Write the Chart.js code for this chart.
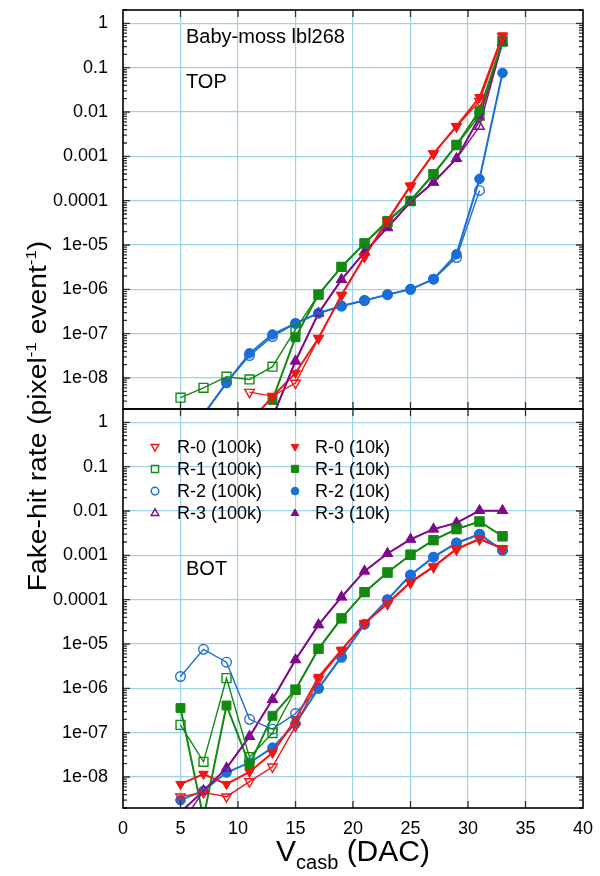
<!DOCTYPE html>
<html>
<head>
<meta charset="utf-8">
<script src="https://cdn.jsdelivr.net/npm/chart.js@4/dist/chart.umd.min.js"></script>
<style>
  body { margin: 0; background: #fff; width: 600px; height: 876px; position: relative; overflow: hidden;
         font-family: "Liberation Sans", Arial, sans-serif; }
  canvas { position: absolute; left: 0; }
  #topChart { top: 0; }
  #botChart { top: 400px; }
  .lbl { position: absolute; color: #000; white-space: nowrap; line-height: 20px; font-size: 20px; }
</style>
</head>
<body>
<canvas id="topChart" width="600" height="420"></canvas>
<canvas id="botChart" width="600" height="476"></canvas>

<div class="lbl" style="left:186px; top:26px;">Baby-moss lbl268</div>
<div class="lbl" style="left:186px; top:71px;">TOP</div>
<div class="lbl" style="left:186px; top:558px;">BOT</div>

<div id="ytitle" style="position:absolute; left:-163px; top:401px; width:400px; height:30px; line-height:30px;
     text-align:center; transform:rotate(-90deg) scaleX(1.13); font-family:'Liberation Sans Narrow','Liberation Sans',Arial,sans-serif; font-size:25px; white-space:nowrap;">
  Fake-hit rate (pixel<span style="font-size:15px; position:relative; top:-10px;">-1</span> event<span style="font-size:15px; position:relative; top:-10px;">-1</span>)
</div>
<div id="xtitle" style="position:absolute; left:153px; top:836px; width:400px; height:30px; line-height:30px;
     text-align:center; font-size:30px; white-space:nowrap;">
  V<span style="font-size:20px; position:relative; top:8px;">casb</span> (DAC)
</div>

<script>
'use strict';

// V_casb settings (DAC)
const vcasb = [5, 7, 9, 11, 13, 15, 17, 19, 21, 23, 25, 27, 29, 31, 33];

// y axis ticks (same for both panels)
const yTickValues = [1e-8, 1e-7, 1e-6, 1e-5, 1e-4, 1e-3, 1e-2, 1e-1, 1];
const yTickLabels = ['1e-08', '1e-07', '1e-06', '1e-05', '0.0001', '0.001', '0.01', '0.1', '1'];
const xTickLabels = ['0', '5', '10', '15', '20', '25', '30', '35', '40'];

const seriesNames = ['R-0 (100k)', 'R-1 (100k)', 'R-2 (100k)', 'R-3 (100k)',
                     'R-0 (10k)', 'R-1 (10k)', 'R-2 (10k)', 'R-3 (10k)'];

// TOP panel
const r0_100k_top = [null, null, null, 4.8e-9, 3.9e-9, 7.7e-9, 7.9e-8, 7.4e-7, 5.4e-6, 3.5e-5, 2.1e-4, 1.15e-3, 4.7e-3, 1.75e-2, 0.5];
const r1_100k_top = [3.6e-9, 6e-9, 1.07e-8, 9.3e-9, 1.8e-8, 1.25e-7, 7.6e-7, 3.2e-6, 1.07e-5, 3.3e-5, 9.8e-5, 3.9e-4, 1.8e-3, 8.3e-3, 0.39];
const r2_100k_top = [null, 1.5e-9, 7.8e-9, 3.2e-8, 8.6e-8, 1.7e-7, 2.9e-7, 4.2e-7, 5.6e-7, 7.6e-7, 1e-6, 1.7e-6, 5.2e-6, 1.7e-4, null];
const r3_100k_top = [null, null, null, null, 1.3e-9, 2.4e-8, 2.9e-7, 1.66e-6, 6.9e-6, 2.46e-5, 9.3e-5, 2.6e-4, 8.9e-4, 4.7e-3, 0.37];
const r0_10k_top = [null, null, null, 1e-9, 3.8e-9, 1.3e-8, 7.9e-8, 7.4e-7, 5.6e-6, 3.6e-5, 2.2e-4, 1.15e-3, 4.8e-3, 2.15e-2, 0.53];
const r1_10k_top = [null, null, null, null, 3.2e-9, 8.3e-8, 7.6e-7, 3.2e-6, 1.1e-5, 3.5e-5, 1e-4, 4e-4, 1.8e-3, 1.07e-2, 0.4];
const r2_10k_top = [null, 1.5e-9, 7.8e-9, 3.6e-8, 9.6e-8, 1.7e-7, 2.9e-7, 4.2e-7, 5.6e-7, 7.6e-7, 1e-6, 1.7e-6, 6.2e-6, 3.1e-4, 0.076];
const r3_10k_top = [null, null, null, null, 1.3e-9, 2.4e-8, 2.9e-7, 1.66e-6, 6.9e-6, 2.5e-5, 9.3e-5, 2.6e-4, 8.9e-4, 7.6e-3, 0.37];

// BOT panel
const r0_100k_bot = [3.6e-9, 4.5e-9, 3.6e-9, 7.9e-9, 1.7e-8, 1.4e-7, 1.6e-6, 7.0e-6, 2.9e-5, 8.0e-5, 2.4e-4, 5.4e-4, 1.35e-3, 2.3e-3, 1.4e-3];
const r1_100k_bot = [1.5e-7, 2.2e-8, 1.7e-6, 2.8e-8, 9.8e-8, 9.3e-7, 7.8e-6, 3.8e-5, 1.48e-4, 4.1e-4, 1.03e-3, 2.2e-3, 3.9e-3, 5.8e-3, 2.7e-3];
const r2_100k_bot = [1.85e-6, 7.6e-6, 3.9e-6, 2.0e-7, 1.2e-7, 2.7e-7, 1.0e-6, 5.0e-6, 2.8e-5, 1e-4, 3.6e-4, 9.1e-4, 1.9e-3, 3.0e-3, 1.3e-3];
const r3_100k_bot = [8e-10, 4.9e-9, 1.58e-8, 8.2e-8, 5.6e-7, 4.4e-6, 2.7e-5, 1.15e-4, 4.4e-4, 1.1e-3, 2.3e-3, 3.9e-3, 5.4e-3, 1.02e-2, 1.02e-2];
const r0_10k_bot = [6.9e-9, 1.17e-8, 6.9e-9, 1.3e-8, 3.5e-8, 2.0e-7, 1.8e-6, 7.4e-6, 2.95e-5, 8.3e-5, 2.5e-4, 5.6e-4, 1.4e-3, 2.35e-3, 1.45e-3];
const r1_10k_bot = [3.6e-7, 1.2e-9, 4.1e-7, 1.9e-8, 2.4e-7, 9.3e-7, 7.8e-6, 3.8e-5, 1.48e-4, 4.1e-4, 1.03e-3, 2.2e-3, 3.9e-3, 5.8e-3, 2.7e-3];
const r2_10k_bot = [3e-9, 4.9e-9, 1.26e-8, 2.1e-8, 4.6e-8, 1.6e-7, 1e-6, 5.2e-6, 2.8e-5, 1e-4, 3.6e-4, 9.1e-4, 1.9e-3, 3.0e-3, 1.29e-3];
const r3_10k_bot = [1.6e-9, 4.9e-9, 1.58e-8, 8.2e-8, 5.6e-7, 4.4e-6, 2.7e-5, 1.15e-4, 4.4e-4, 1.1e-3, 2.3e-3, 3.9e-3, 5.4e-3, 1.02e-2, 1.02e-2];

const colors = ['#f41414', '#128a12', '#1a6ed8', '#800a8c'];
const styles = [
  { pointStyle: 'triangle', rotation: 180, radius: 5.5 },
  { pointStyle: 'rect', rotation: 0, radius: 6.3 },
  { pointStyle: 'circle', rotation: 0, radius: 4.8 },
  { pointStyle: 'triangle', rotation: 0, radius: 5.5 }
];
const gridColor = '#9dd2ea';
const fontFamily = '"Liberation Sans", Arial, sans-serif';

function makeDataset(idx, values) {
  const r = idx % 4;
  const filled = idx >= 4;
  const st = styles[r];
  return {
    label: seriesNames[idx],
    data: vcasb.map((v, i) => ({ x: v, y: values[i] })),
    borderColor: colors[r],
    backgroundColor: colors[r],
    pointBackgroundColor: filled ? colors[r] : 'rgba(255,255,255,0)',
    pointBorderColor: colors[r],
    pointStyle: st.pointStyle,
    pointRotation: st.rotation,
    pointRadius: st.radius,
    pointBorderWidth: filled ? 1 : 1.4,
    borderWidth: filled ? 2 : 1.4,
    tension: 0,
    clip: 0
  };
}

// frame plus inward tick marks
const frameTicks = {
  id: 'frameTicks',
  afterDraw(chart) {
    const { ctx, chartArea: a } = chart;
    const x = chart.scales.x, y = chart.scales.y;
    ctx.save();
    ctx.strokeStyle = '#333';
    ctx.lineWidth = 1.3;
    ctx.beginPath();
    for (let v = 5; v < 40; v += 5) {
      const px = x.getPixelForValue(v);
      ctx.moveTo(px, a.top); ctx.lineTo(px, a.top + 7);
      ctx.moveTo(px, a.bottom); ctx.lineTo(px, a.bottom - 7);
    }
    for (let e = -9; e <= 0; e++) {
      for (let k = 1; k <= 9; k++) {
        const v = k * Math.pow(10, e);
        if (v < y.min || v > y.max) continue;
        const py = y.getPixelForValue(v);
        const len = k === 1 ? 7 : 4;
        ctx.moveTo(a.left, py); ctx.lineTo(a.left + len, py);
        ctx.moveTo(a.right, py); ctx.lineTo(a.right - len, py);
      }
    }
    ctx.stroke();
    ctx.strokeStyle = '#000';
    ctx.lineWidth = 1.6;
    ctx.strokeRect(a.left, a.top, a.right - a.left, a.bottom - a.top);
    ctx.restore();
  }
};

// two-column key inside the lower panel
const keyBox = {
  id: 'keyBox',
  afterDatasetsDraw(chart) {
    const ctx = chart.ctx;
    ctx.save();
    ctx.font = '18px ' + fontFamily;
    ctx.textBaseline = 'middle';
    chart.data.datasets.forEach((ds, i) => {
      const col = i < 4 ? 0 : 1;
      const row = i % 4;
      const yy = 46.7 + row * 22.2;
      const mx = col === 0 ? 155 : 295;
      const tx = col === 0 ? 177 : 315;
      ctx.fillStyle = ds.pointBackgroundColor;
      ctx.strokeStyle = ds.pointBorderColor;
      ctx.lineWidth = ds.pointBorderWidth;
      Chart.helpers.drawPoint(ctx, {
        pointStyle: ds.pointStyle, rotation: ds.pointRotation,
        radius: ds.pointRadius * 0.8, borderWidth: ds.pointBorderWidth
      }, mx, yy);
      ctx.fillStyle = '#000';
      ctx.fillText(ds.label, tx, yy + 1);
    });
    ctx.restore();
  }
};

function buildChart(canvasId, seriesList, showX) {
  const ctx = document.getElementById(canvasId).getContext('2d');
  return new Chart(ctx, {
    type: 'line',
    data: { datasets: seriesList.map((vals, i) => makeDataset(i, vals)) },
    options: {
      responsive: false,
      animation: false,
      devicePixelRatio: 1,
      layout: { padding: showX ? { top: 9, bottom: 0, left: 0, right: 17 } : { top: 10, bottom: 11, left: 0, right: 17 } },
      plugins: { legend: { display: false }, tooltip: { enabled: false } },
      scales: {
        x: {
          type: 'linear', min: 0, max: 40,
          ticks: {
            display: showX, stepSize: 5, autoSkip: false, padding: 10, color: '#000',
            font: { size: 18, family: fontFamily },
            callback: (v) => xTickLabels[xTickLabels.indexOf(String(v))]
          },
          grid: {
            drawTicks: false, lineWidth: 1.2,
            color: (c) => (c.tick && (c.tick.value === 0 || c.tick.value === 40)) ? 'rgba(0,0,0,0)' : gridColor
          },
          border: { display: false },
          afterFit(scale) { scale.height = showX ? 68 : 0; scale.paddingLeft = 0; scale.paddingRight = 0; }
        },
        y: {
          type: 'logarithmic', min: 2e-9, max: 2,
          afterBuildTicks(scale) { scale.ticks = yTickValues.map(v => ({ value: v, major: true })); },
          ticks: {
            autoSkip: false, padding: 15, color: '#000',
            font: { size: 18, family: fontFamily },
            callback: (v) => yTickLabels[yTickValues.indexOf(v)]
          },
          grid: { drawTicks: false, lineWidth: 1.2, color: gridColor },
          border: { display: false },
          afterFit(scale) { scale.width = 123; scale.paddingTop = 0; scale.paddingBottom = 0; }
        }
      }
    },
    plugins: showX ? [frameTicks, keyBox] : [frameTicks]
  });
}

buildChart('topChart', [r0_100k_top, r1_100k_top, r2_100k_top, r3_100k_top,
                        r0_10k_top, r1_10k_top, r2_10k_top, r3_10k_top], false);
buildChart('botChart', [r0_100k_bot, r1_100k_bot, r2_100k_bot, r3_100k_bot,
                        r0_10k_bot, r1_10k_bot, r2_10k_bot, r3_10k_bot], true);
</script>
</body>
</html>
